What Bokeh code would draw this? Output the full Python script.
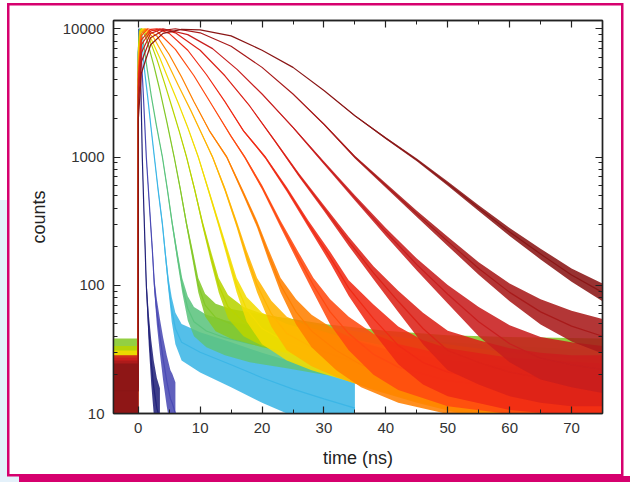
import numpy as np
from bokeh.plotting import figure
from bokeh.models import (LogAxis, LinearAxis, FixedTicker, SingleIntervalTicker,
                          PrintfTickFormatter, CustomJSTickFormatter)
from bokeh.embed import file_html
from bokeh.resources import INLINE

# ---- data: time (ns) and counts for each decay trace ----
t_navy = [-0.05, 0, 0.02, 0.1, 0.25, 0.45, 0.65, 0.9, 1.3, 1.7, 2.1, 2.5, 3.0, 3.5]
c_navy = [5, 5, 6000, 10000, 7000, 3000, 1000, 400, 100, 45, 25, 16, 11, 9]

t_blue = [-0.05, 0, 0.02, 0.15, 0.4, 0.8, 1.3, 1.8, 2.3, 2.6, 3.0, 3.5, 4.0, 4.6, 5.2, 5.5, 6.0]
c_blue = [5, 5, 6000, 10000, 7500, 3200, 1000, 420, 180, 100, 62, 40, 27, 18, 13, 12, 10]

t_cyan = [-0.05, 0, 0.02, 0.2, 0.6, 1.0, 1.5, 2.0, 2.6, 3.2, 3.9, 4.4, 4.9, 5.4, 6.0, 7.0,
          10, 15, 20, 25, 30, 35]
c_cyan = [5, 5, 6500, 10000, 7800, 4800, 3000, 1800, 1000, 560, 300, 170, 100, 65, 46, 36,
          30, 24, 19, 15.5, 13, 11]

t_teal = [-4, -0.05, 0, 0.02, 0.3, 0.8, 1.4, 2.1, 2.9, 3.9, 4.7, 5.5, 6.3, 7.1, 8.0, 9, 11, 14,
          18, 24, 30, 40, 50, 60, 75]
c_teal = [20, 20, 20, 6500, 10000, 8000, 5000, 3000, 1800, 1000, 560, 300, 170, 100, 66, 52, 44,
          39, 35, 32, 29, 26, 24, 22, 20]

t_green = [-4, -0.05, 0, 0.02, 0.2, 0.5, 1.4, 2.5, 3.5, 4.6, 5.8, 6.8, 7.8, 8.8, 9.7, 10.8,
           12.5, 15, 20, 25, 30, 40, 50, 60, 75]
c_green = [26, 26, 26, 7000, 9700, 10000, 8200, 5200, 3300, 1900, 1000, 560, 300, 170, 100, 70,
           56, 50, 44, 40, 36, 31, 28, 27, 26]

t_lime = [-4, -0.05, 0, 0.02, 0.25, 0.6, 1.8, 3.0, 4.3, 5.5, 6.6, 7.8, 9.1, 10.4, 11.7, 13,
          14.5, 17, 20, 25, 30, 36, 44, 52, 60, 75]
c_lime = [22, 22, 22, 6500, 9600, 10000, 8300, 5800, 3700, 2400, 1600, 1000, 560, 300, 170, 100,
          68, 52, 45, 39, 34, 30, 26, 22, 19, 16]

t_yellow = [-4, -0.05, 0, 0.02, 0.3, 0.8, 2, 3.5, 5, 6.5, 8, 9.7, 11.3, 13, 14.5, 15.9, 17.5,
            20, 24, 28, 33, 40, 48, 55, 62, 70, 75]
c_yellow = [20, 20, 20, 6000, 9500, 10000, 8500, 5900, 3900, 2600, 1700, 1000, 560, 300, 170, 100,
            65, 46, 36, 31, 27, 22, 18, 15, 12, 10.5, 10]

t_amber = [-4, -0.05, 0, 0.02, 0.3, 1, 2.5, 4.5, 6.5, 8.5, 10.3, 12, 14, 15.9, 17.5, 19.2, 21.5,
           24, 28, 32, 38, 45, 55, 65, 75]
c_amber = [18, 18, 18, 5500, 9300, 10000, 8500, 5700, 3600, 2300, 1500, 1000, 560, 300, 170, 100,
           60, 42, 33, 28, 23, 19, 15, 13, 12]

t_orange = [-4, -0.05, 0, 0.02, 0.4, 1.2, 3, 5, 7, 9, 11.5, 14.3, 17, 19.2, 21, 23, 25.5, 28, 32,
            36, 42, 50, 60, 75]
c_orange = [17, 17, 17, 5000, 9000, 10000, 8800, 6300, 4200, 2700, 1600, 1000, 520, 300, 175, 100,
            62, 44, 31, 24, 19, 16, 14, 13]

t_redorange = [-4, -0.05, 0, 0.02, 0.5, 1.5, 3, 6, 9, 12, 15, 17.2, 20, 23, 26, 28.3, 31, 34, 38,
               42, 50, 60, 75]
c_redorange = [15, 15, 15, 4500, 8800, 10000, 9600, 6900, 4300, 2500, 1450, 1000, 580, 300, 160,
               100, 62, 42, 29, 23, 18, 16, 15]

t_red1 = [-4, -0.05, 0, 0.02, 0.5, 2, 3, 5, 8, 11, 14, 17, 20.5, 24, 27.5, 31, 34, 38, 42, 46, 50,
          60, 75]
c_red1 = [16, 16, 16, 4000, 8200, 9900, 10000, 9200, 6800, 4400, 2700, 1600, 1000, 560, 300, 165,
          95, 55, 34, 25, 21, 17, 15]

t_red2 = [-4, -0.05, 0, 0.02, 0.5, 2, 3.5, 6, 10, 14, 18, 22, 26, 30, 34, 38, 42, 46, 50, 55, 60,
          65, 70, 75]
c_red2 = [17, 17, 17, 3500, 7500, 9600, 10000, 9300, 6800, 4300, 2500, 1350, 720, 400, 220, 125,
          75, 46, 31, 25, 21, 19, 18, 18]

t_red3 = [-4, -0.05, 0, 0.02, 0.5, 2, 4, 8, 12, 16, 20, 25, 30, 35, 40, 45, 50, 55, 60, 65, 70, 75]
c_red3 = [18, 18, 18, 3000, 6500, 9200, 10000, 9000, 7000, 4800, 3100, 1700, 900, 480, 260, 145,
          85, 52, 35, 27, 24, 22]

t_red4 = [-4, -0.05, 0, 0.02, 0.5, 2, 4, 6, 10, 15, 20, 25, 30, 35, 40, 45, 50, 55, 60, 65, 70, 75]
c_red4 = [16, 16, 16, 2500, 5500, 8500, 9700, 10000, 9300, 7300, 5000, 3100, 1800, 1000, 600, 360,
          220, 135, 88, 62, 48, 40]

t_red5 = [-4, -0.05, 0, 0.02, 0.5, 2, 4, 7, 10, 15, 20, 25, 30, 35, 40, 45, 50, 55, 60, 65, 70, 75]
c_red5 = [15, 15, 15, 2000, 4500, 7500, 9200, 9900, 9800, 8800, 6800, 5000, 3300, 2100, 1400, 950,
          620, 400, 260, 175, 120, 88]

x_ticks = [0, 10, 20, 30, 40, 50, 60, 70]
y_ticks = [10, 100, 1000, 10000]

traces = [
    (t_navy, c_navy, "#22227a"),
    (t_blue, c_blue, "#4a4ab4"),
    (t_cyan, c_cyan, "#3cb6e6"),
    (t_teal, c_teal, "#5cc47e"),
    (t_green, c_green, "#84c828"),
    (t_lime, c_lime, "#b8d400"),
    (t_yellow, c_yellow, "#f2dc00"),
    (t_amber, c_amber, "#ffb400"),
    (t_orange, c_orange, "#ff8000"),
    (t_redorange, c_redorange, "#ff4a10"),
    (t_red1, c_red1, "#f02a14"),
    (t_red2, c_red2, "#dc2218"),
    (t_red3, c_red3, "#c81e1e"),
    (t_red4, c_red4, "#a81a1a"),
    (t_red5, c_red5, "#8a1616"),
]

# visual width of the counting noise as a function of count level (style only)
NOISE_LOGC = [1.0, 1.5, 2.0, 2.5, 3.0, 3.5]
NOISE_SPREAD = [1.75, 1.42, 1.14, 1.06, 1.025, 1.0]

# decorative page frame drawn as the page background behind a transparent border area
MAG = "#d6006e"
BLUE_BG = "#e4f1fa"
frame_layers = [
    (MAG, "2.5px 473px", "7px 3px"),      # left line
    (MAG, "616px 2.5px", "7px 3px"),      # top line
    (MAG, "2.5px 473px", "620.5px 3px"),  # right line
    (MAG, "616px 2.5px", "7px 473.5px"),  # bottom thin line
    (MAG, "611px 6px", "19px 476px"),     # bottom bar
    (BLUE_BG, "7px 282px", "0px 200px"),
    (BLUE_BG, "19px 6px", "0px 476px"),
]
css = {
    "background-color": "white",
    "background-image": ", ".join(f"linear-gradient({c}, {c})" for c, _, _ in frame_layers),
    "background-size": ", ".join(s for _, s, _ in frame_layers),
    "background-position": ", ".join(pos for _, _, pos in frame_layers),
    "background-repeat": "no-repeat",
}

p = figure(width=630, height=482, y_axis_type="log",
           x_range=(-4, 75), y_range=(10, 11600),
           output_backend="svg", toolbar_location=None,
           min_border_left=113, min_border_right=28, min_border_top=20, min_border_bottom=69,
           background_fill_color="white", border_fill_color=None)
p.styles = css
p.grid.visible = False
p.outline_line_color = "#222222"
p.outline_line_width = 1.4

for t, c, col in traces:
    t = np.array(t, dtype=float)
    c = np.array(c, dtype=float)
    s = np.interp(np.log10(c), NOISE_LOGC, NOISE_SPREAD)
    p.varea(x=t, y1=c / s, y2=c * s, fill_color=col, fill_alpha=0.88)
    p.line(t, c, line_color=col, line_width=1.2)

label_font = "Liberation Sans"
tick_color = "#333333"
blank = CustomJSTickFormatter(code="return ''")

def style_axis(ax):
    ax.axis_line_color = "#222222"
    ax.axis_line_width = 1.4
    ax.major_tick_in = 7
    ax.major_tick_out = 0
    ax.minor_tick_in = 4
    ax.minor_tick_out = 0
    ax.major_tick_line_color = "#222222"
    ax.minor_tick_line_color = "#222222"
    ax.major_tick_line_width = 1.2
    ax.minor_tick_line_width = 1.0
    ax.major_label_text_font = label_font
    ax.major_label_text_color = tick_color
    ax.major_label_text_font_size = "15px"
    ax.major_label_standoff = 9
    ax.axis_label_text_font = label_font
    ax.axis_label_text_font_style = "normal"
    ax.axis_label_text_color = "#222222"
    ax.axis_label_text_font_size = "18px"

y_minor = [k * 10 ** d for d in range(1, 5) for k in range(2, 10) if k * 10 ** d < 11600]
yticker = FixedTicker(ticks=y_ticks, minor_ticks=y_minor)
xticker = SingleIntervalTicker(interval=10, num_minor_ticks=2)

yax = p.yaxis[0]
yax.ticker = yticker
yax.formatter = PrintfTickFormatter(format="%d")
yax.axis_label = "counts"
yax.axis_label_standoff = 11
style_axis(yax)

xax = p.xaxis[0]
xax.ticker = xticker
xax.axis_label = "time (ns)"
xax.axis_label_standoff = 12
style_axis(xax)

rax = LogAxis(ticker=yticker, formatter=blank)
style_axis(rax)
rax.major_label_standoff = 0
p.add_layout(rax, "right")

tax = LinearAxis(ticker=xticker, formatter=blank)
style_axis(tax)
tax.major_label_standoff = 0
p.add_layout(tax, "above")

open("out.html", "w").write(file_html(p, INLINE))
